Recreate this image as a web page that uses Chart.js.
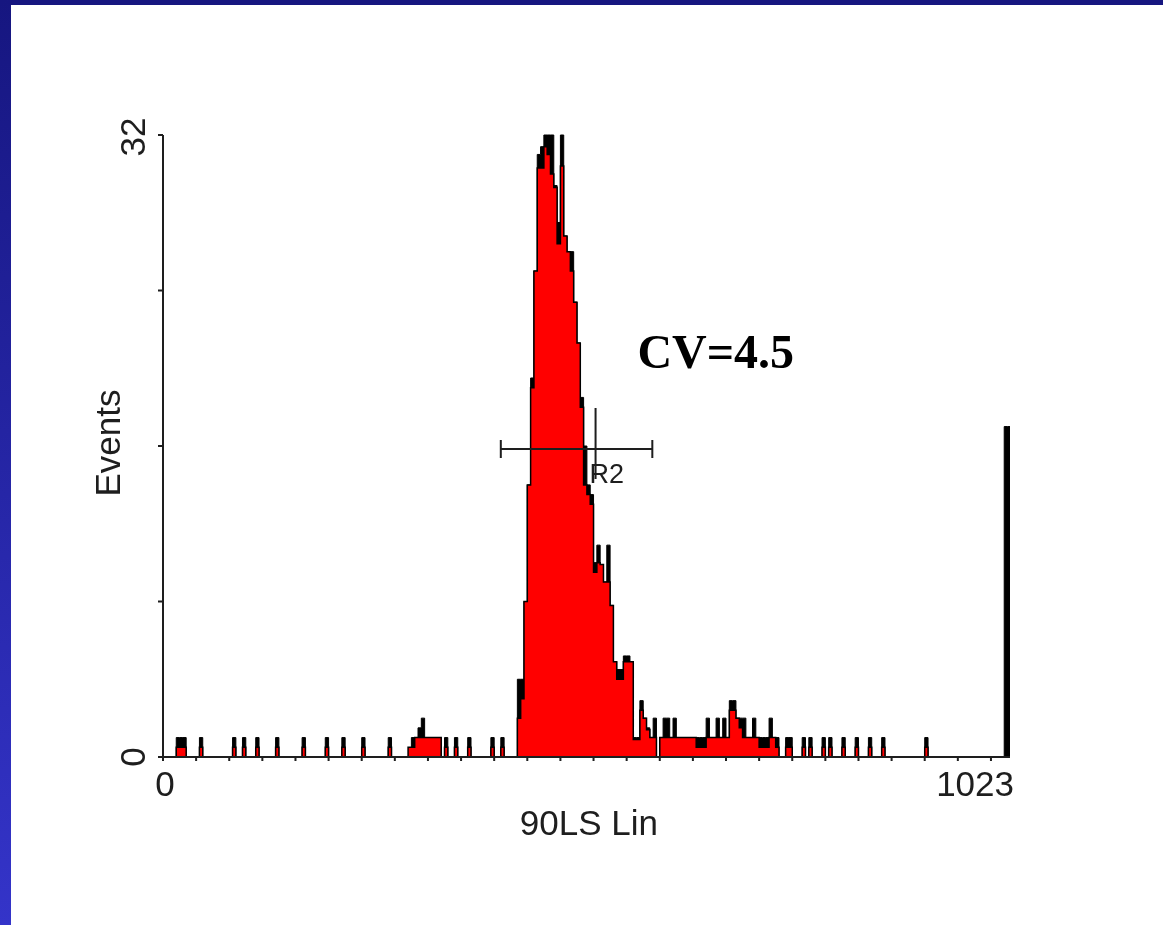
<!DOCTYPE html>
<html>
<head>
<meta charset="utf-8">
<script src="https://cdn.jsdelivr.net/npm/chart.js@4/dist/chart.umd.min.js"></script>
<style>
  html, body { margin: 0; padding: 0; background: #ffffff; }
  #wrap { position: relative; width: 1163px; height: 925px; overflow: hidden; background: #ffffff; }
  #topbar { position: absolute; left: 0; top: 0; width: 1163px; height: 5px; background: #161680; z-index: 2; }
  #leftbar { position: absolute; left: 0; top: 0; width: 11px; height: 925px; background: linear-gradient(#161680, #3434c9); z-index: 2; }
  canvas { position: absolute; left: 0; top: 0; }
</style>
</head>
<body>
<div id="wrap">
  <div id="topbar"></div>
  <div id="leftbar"></div>
  <canvas id="c" width="1163" height="925"></canvas>
</div>
<script>
// ---- data (256 bins of 4 channels, 0..1023) ----
const binWidth = 4;
const channelMax = 1023;
const eventsMax = 32;
const xTickStep = 40;
const yTickValues = [0, 8, 16, 24, 32];
const yLabelValues = [0, 32];
const yTickLabels = ["0", "32"];
const xTickLabels = ["0", "1023"];
const xTitle = "90LS Lin";
const yTitle = "Events";
const annotation = "CV=4.5";
const regionName = "R2";
const regionRange = [408, 591];   // channels
const regionLevel = 15.85;        // events

// filled (red) histogram
const fillCounts = [
  0,0,0,0,0,.5,.5,.5,0,0,0,0,.5,0,0,0,
  0,0,0,0,0,0,.5,0,0,.5,0,0,0,.5,0,0,
  0,0,0,.5,0,0,0,0,0,0,0,.5,0,0,0,0,
  0,0,.5,0,0,0,0,.5,0,0,0,0,0,.5,0,0,
  0,0,0,0,0,.5,0,0,0,0,0,.5,.5,1,1,1,
  1,1,1,1,1,0,.5,0,0,.5,0,0,0,.5,0,0,
  0,0,0,0,.5,0,0,.5,0,0,0,0,2,3,8,14,
  19,25,30.3,30.3,31.4,31,30,29.3,26.4,30.4,26.8,26,25,23.4,21.3,18,
  14,13.5,13,9.5,10,9.9,9,9,7.8,4.9,4,4,4.9,4.9,4.9,0.9,
  0.9,2.4,2,1.4,1,1,0,1,1,1,1,1,1,1,1,1,
  1,1,.5,.5,.5,1,1,1,1,1,1,1,2.4,2.4,2,1.5,
  1,1,1,1,1,.5,.5,.5,1,1,.5,0,0,.5,.5,0,
  0,0,.5,0,.5,0,0,0,.5,0,.5,0,0,0,.5,0,
  0,0,.5,0,0,0,.5,0,0,0,.5,0,0,0,0,0,
  0,0,0,0,0,0,0,.5,0,0,0,0,0,0,0,0,
  0,0,0,0,0,0,0,0,0,0,0,0,0,0,0,0
];
// raw (black) histogram
const rawCounts = [
  0,0,0,0,0,1,1,1,0,0,0,0,1,0,0,0,
  0,0,0,0,0,0,1,0,0,1,0,0,0,1,0,0,
  0,0,0,1,0,0,0,0,0,0,0,1,0,0,0,0,
  0,0,1,0,0,0,0,1,0,0,0,0,0,1,0,0,
  0,0,0,0,0,1,0,0,0,0,0,0,1,1,1.5,2,
  1,1,1,1,1,0,1,0,0,1,0,0,0,1,0,0,
  0,0,0,0,1,0,0,1,0,0,0,0,4,4,8,14,
  19.5,25,31,31.4,32,32,32,29.4,27.5,32,26.8,26,26,23.4,21.3,18.5,
  16,14,13.5,10,10.9,9.9,9,10.9,7.8,4.9,4.5,4.5,5.2,5.2,4.9,1,
  1,2.9,2,1.5,1,2,0,1,2,2,1,2,1,1,1,1,
  1,1,1,1,1,2,1,1,2,1,2,1,2.9,2.9,2,2,
  2,1,1,2,1,1,1,1,2,1,1,0,0,1,1,0,
  0,0,1,0,1,0,0,0,1,0,1,0,0,0,1,0,
  0,0,1,0,0,0,1,0,0,0,1,0,0,0,0,0,
  0,0,0,0,0,0,0,1,0,0,0,0,0,0,0,0,
  0,0,0,0,0,0,0,0,0,0,0,0,0,0,0,17
];

function toPoints(counts) {
  const pts = counts.map((v, i) => ({ x: i * binWidth, y: v }));
  pts.push({ x: channelMax, y: counts[counts.length - 1] });
  return pts;
}

const axisColor = "#1e1e1e";
const sansFont = "'Liberation Sans', Arial, sans-serif";

const axesPlugin = {
  id: "fcsAxes",
  afterDatasetsDraw(chart) {
    const ctx = chart.ctx;
    const xs = chart.scales.x, ys = chart.scales.y;
    const x0 = xs.getPixelForValue(0), x1 = xs.getPixelForValue(channelMax);
    const y0 = ys.getPixelForValue(0), y1 = ys.getPixelForValue(eventsMax);
    ctx.save();
    ctx.strokeStyle = axisColor;
    ctx.lineWidth = 2;
    ctx.beginPath();
    ctx.moveTo(x0, y1); ctx.lineTo(x0, y0);
    ctx.moveTo(x0 - 5, y0); ctx.lineTo(x1, y0);
    yTickValues.forEach(v => {
      const y = ys.getPixelForValue(v);
      ctx.moveTo(x0 - 5, y); ctx.lineTo(x0, y);
    });
    for (let c = 0; c <= channelMax; c += xTickStep) {
      const x = xs.getPixelForValue(c);
      ctx.moveTo(x, y0); ctx.lineTo(x, y0 + 4);
    }
    ctx.stroke();

    // tick labels
    ctx.fillStyle = axisColor;
    ctx.font = "35px " + sansFont;
    yLabelValues.forEach((v, k) => {
      const y = ys.getPixelForValue(v) + (v === eventsMax ? 2 : 0);
      ctx.save();
      ctx.translate(x0 - 18, y);
      ctx.rotate(-Math.PI / 2);
      ctx.textAlign = "center";
      ctx.textBaseline = "alphabetic";
      ctx.fillText(yTickLabels[k], 0, 0);
      ctx.restore();
    });
    // y title
    ctx.save();
    ctx.translate(x0 - 43, ys.getPixelForValue(16) - 3);
    ctx.rotate(-Math.PI / 2);
    ctx.textAlign = "center";
    ctx.textBaseline = "alphabetic";
    ctx.fillText(yTitle, 0, 0);
    ctx.restore();
    // x labels
    ctx.textBaseline = "alphabetic";
    ctx.textAlign = "center";
    ctx.fillText(xTickLabels[0], x0 + 2, y0 + 39);
    ctx.textAlign = "right";
    ctx.fillText(xTickLabels[1], x1 + 4, y0 + 39);
    ctx.textAlign = "center";
    ctx.fillText(xTitle, xs.getPixelForValue(512) + 2, y0 + 78);

    // region marker R2
    const ra = xs.getPixelForValue(regionRange[0]);
    const rb = xs.getPixelForValue(regionRange[1]);
    const ry = ys.getPixelForValue(regionLevel);
    ctx.lineWidth = 2;
    ctx.beginPath();
    ctx.moveTo(ra, ry); ctx.lineTo(rb, ry);
    ctx.moveTo(ra, ry - 9); ctx.lineTo(ra, ry + 9);
    ctx.moveTo(rb, ry - 9); ctx.lineTo(rb, ry + 9);
    const rm = (ra + rb) / 2 + 19;
    ctx.moveTo(rm, ry - 41); ctx.lineTo(rm, ry + 30);
    ctx.stroke();
    ctx.font = "27px " + sansFont;
    ctx.textAlign = "left";
    ctx.textBaseline = "alphabetic";
    ctx.fillText(regionName, rm - 6, ry + 34);

    // CV annotation
    ctx.font = "bold 48px 'Liberation Serif', 'Times New Roman', serif";
    ctx.fillStyle = "#000000";
    ctx.textAlign = "left";
    ctx.fillText(annotation, xs.getPixelForValue(573), ys.getPixelForValue(20.0));
    ctx.restore();
  }
};

new Chart(document.getElementById("c"), {
  type: "line",
  data: {
    datasets: [
      {
        label: "fill",
        data: toPoints(fillCounts),
        stepped: "after",
        fill: "origin",
        backgroundColor: "#ff0000",
        borderColor: "#000000",
        borderWidth: 1.5,
        pointRadius: 0,
        clip: 6
      },
      {
        label: "raw",
        data: toPoints(rawCounts),
        stepped: "after",
        fill: "origin",
        backgroundColor: "#000000",
        borderColor: "#000000",
        borderWidth: 1,
        pointRadius: 0,
        clip: 6
      }
    ]
  },
  options: {
    responsive: false,
    animation: false,
    events: [],
    layout: { padding: { left: 163, top: 135, right: 153, bottom: 168 } },
    plugins: { legend: { display: false }, tooltip: { enabled: false }, title: { display: false } },
    scales: {
      x: { type: "linear", min: 0, max: channelMax, display: false },
      y: { type: "linear", min: 0, max: eventsMax, display: false }
    }
  },
  plugins: [axesPlugin]
});
</script>
</body>
</html>
